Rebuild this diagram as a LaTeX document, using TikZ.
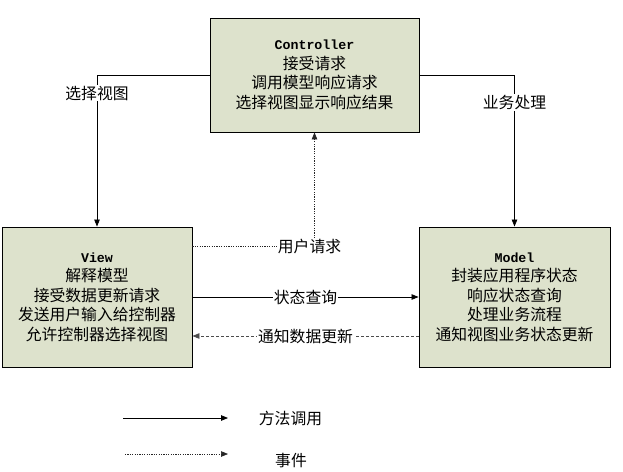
\documentclass[tikz,border=0pt]{standalone}
\usepackage{fontspec}
\setmainfont{Liberation Serif}
\newfontfamily\cjk{Noto Sans CJK SC}
\newfontfamily\latmono{Liberation Mono}
\usetikzlibrary{arrows.meta}
\definecolor{boxfill}{RGB}{221,226,204}
\tikzset{
  box/.style={draw=black, line width=0.9pt, fill=boxfill, align=center, inner sep=0pt,
    font=\cjk\fontsize{15.8}{19.5}\selectfont},
  tip/.style={-{Triangle[length=7pt,width=5.5pt]}},
  call/.style={tip, line width=0.8pt, draw=black},
  evt/.style={tip, line width=0.7pt, draw=black!85, dash pattern=on 1.2pt off 1.2pt},
  notify/.style={tip, line width=0.8pt, draw=black!70, dash pattern=on 3pt off 2pt},
  lbl/.style={fill=white, inner sep=1pt, font=\cjk\fontsize{15.8}{18}\selectfont},
}
\newcommand{\hd}[1]{{\latmono\bfseries\fontsize{13.3}{19.5}\selectfont #1}}
\begin{document}
\begin{tikzpicture}[x=1pt,y=-1pt]
\useasboundingbox[fill=white] (0,0) rectangle (623,471);
\node[box, minimum width=209pt, minimum height=114pt] (C) at (314.5,75)
  {\hd{Controller}\\接受请求\\调用模型响应请求\\选择视图显示响应结果};
\node[box, minimum width=190pt, minimum height=140pt] (V) at (97,297)
  {\hd{View}\\解释模型\\接受数据更新请求\\发送用户输入给控制器\\允许控制器选择视图};
\node[box, minimum width=191pt, minimum height=140pt] (M) at (514.5,297)
  {\hd{Model}\\封装应用程序状态\\响应状态查询\\处理业务流程\\通知视图业务状态更新};
% controller -> view
\draw[call] (C.west) -| (V.north) node[lbl, pos=0.56] (l1) {选择视图};
% controller -> model
\draw[call] (C.east) -| (M.north) node[lbl, pos=0.59] (l2) {业务处理};
% user request
\coordinate (ur) at (314.5,246);
\draw[evt] (ur -| V.east) -- (ur) -- (C.south);
\node[lbl] (l3) at (309.5,246) {用户请求};
% state query
\draw[call] (V.east) -- (M.west) node[lbl, midway] (l4) {状态查询};
% notify
\draw[notify] ([yshift=-39pt]M.west) -- ([yshift=-39pt]V.east) node[lbl, midway] (l5) {通知数据更新};
% legend
\coordinate (a1) at (123,418);
\coordinate (b1) at (228,418);
\coordinate (a2) at (125,454);
\coordinate (b2) at (228,454);
\draw[call] (a1) -- (b1);
\draw[evt] (a2) -- (b2);
\node[lbl] (t1) at (290.5,418) {方法调用};
\node[lbl] (t2) at (291,461) {事件};
\end{tikzpicture}
\end{document}
